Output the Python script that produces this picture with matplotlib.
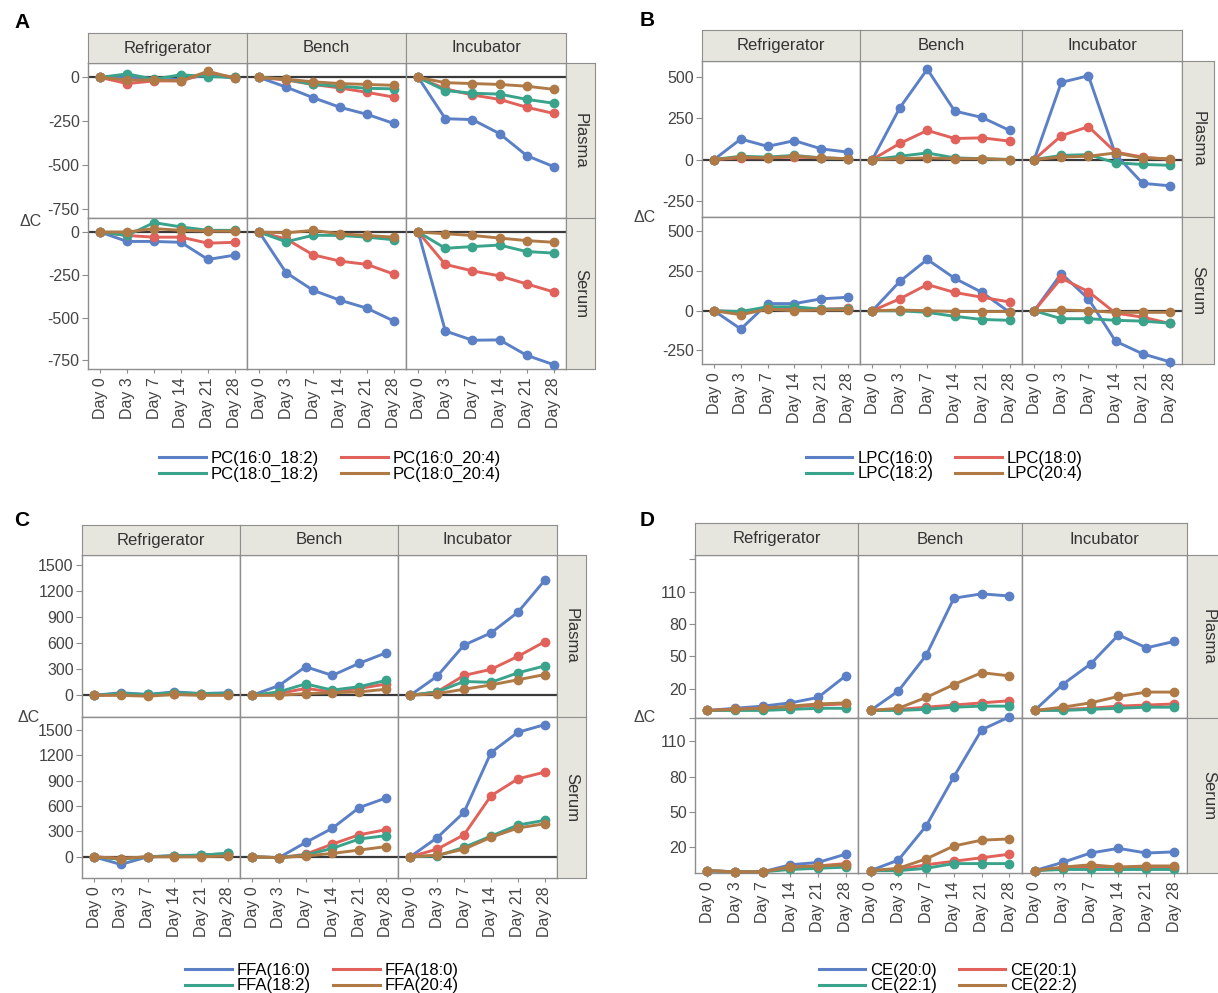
import matplotlib
matplotlib.use('Agg')
import matplotlib.pyplot as plt
from matplotlib.lines import Line2D

plt.rcParams['font.family'] = ['Liberation Sans', 'DejaVu Sans']

days = ['Day 0', 'Day 3', 'Day 7', 'Day 14', 'Day 21', 'Day 28']
storage = ['Refrigerator', 'Bench', 'Incubator']
matrix = ['Plasma', 'Serum']

# each series: Plasma Refrigerator/Bench/Incubator, then Serum Refrigerator/Bench/Incubator
# A - PC
pc_names = ['PC(16:0_18:2)', 'PC(16:0_20:4)', 'PC(18:0_18:2)', 'PC(18:0_20:4)']
pc_160_182 = [[0, 5, -15, -10, 15, -5], [0, -55, -115, -170, -210, -262], [0, -235, -240, -320, -445, -508],
              [0, -55, -55, -60, -160, -135], [0, -237, -340, -398, -445, -520], [0, -578, -632, -630, -720, -775]]
pc_160_204 = [[0, -35, -20, -20, 25, 0], [0, -15, -40, -60, -85, -112], [0, -65, -100, -125, -170, -205],
              [0, -20, -30, -30, -65, -60], [0, -40, -133, -170, -189, -246], [0, -189, -227, -256, -303, -350]]
pc_180_182 = [[0, 20, -10, 15, 5, 0], [0, -10, -40, -50, -62, -65], [0, -75, -90, -95, -125, -147],
              [0, -20, 55, 30, 10, 10], [0, -57, -19, -20, -30, -45], [0, -95, -85, -76, -114, -123]]
pc_180_204 = [[0, -15, -15, -20, 35, -5], [0, -10, -25, -35, -40, -45], [0, -30, -35, -40, -50, -68],
              [0, 0, 20, 10, 5, 5], [0, -5, 10, -10, -20, -30], [0, -10, -20, -35, -50, -60]]

# B - LPC
lpc_names = ['LPC(16:0)', 'LPC(18:0)', 'LPC(18:2)', 'LPC(20:4)']
lpc_160 = [[0, 125, 80, 115, 65, 45], [0, 315, 550, 295, 256, 177], [0, 470, 510, 30, -145, -160],
           [0, -115, 45, 45, 75, 85], [0, 185, 323, 204, 115, -10], [0, 234, 75, -192, -271, -321]]
lpc_180 = [[0, 10, 10, 15, 10, 5], [0, 98, 177, 128, 132, 112], [0, 145, 200, 45, 15, 0],
           [0, -10, 15, 15, 10, 15], [0, 75, 165, 115, 85, 55], [0, 205, 120, -15, -40, -80]]
lpc_182 = [[0, 20, 15, 25, 10, 5], [0, 20, 40, 10, 5, 0], [0, 25, 30, -20, -30, -35],
           [0, -5, 25, 25, 10, 10], [0, 0, -10, -35, -55, -60], [0, -50, -50, -60, -65, -78]]
lpc_204 = [[0, 15, 10, 20, 10, 5], [0, 5, 10, 5, 5, 0], [0, 15, 20, 40, 10, 5],
           [0, -25, 10, 0, 5, 5], [0, 5, 0, -5, -5, -5], [0, 5, 0, -10, -10, -10]]

# C - FFA
ffa_names = ['FFA(16:0)', 'FFA(18:0)', 'FFA(18:2)', 'FFA(20:4)']
ffa_160 = [[0, 30, 10, 40, 20, 30], [0, 112, 330, 230, 370, 490], [0, 220, 580, 720, 960, 1330],
           [0, -90, 0, 15, 20, 40], [0, -10, 169, 337, 581, 694], [0, 225, 525, 1230, 1470, 1560]]
ffa_180 = [[0, 10, 0, 20, 10, 10], [0, 20, 80, 40, 80, 130], [0, 40, 230, 300, 450, 620],
           [0, -20, 0, 10, 15, 30], [0, -10, 30, 150, 260, 320], [0, 90, 260, 720, 920, 1000]]
ffa_182 = [[0, 20, 10, 30, 20, 20], [0, 40, 132, 60, 100, 172], [0, 40, 160, 150, 260, 340],
           [0, -30, 0, 10, 20, 40], [0, -10, 20, 100, 210, 250], [0, 10, 112, 244, 375, 431]]
ffa_204 = [[0, 0, -10, 10, 0, 0], [0, 0, 20, 30, 40, 70], [0, 20, 70, 120, 180, 240],
           [0, -20, 0, 0, 0, 10], [0, -10, 10, 40, 80, 120], [0, 20, 90, 230, 340, 390]]

# D - CE
ce_names = ['CE(20:0)', 'CE(20:1)', 'CE(22:1)', 'CE(22:2)']
ce_200 = [[0, 2, 4, 7, 12, 32], [0, 18, 51, 104, 108, 106], [0, 24, 43, 70, 58, 64],
          [0, -1, -1, 5, 7, 14], [0, 9, 38, 80, 120, 131], [0, 7, 15, 19, 15, 16]]
ce_201 = [[0, 1, 2, 3, 5, 6], [0, 1, 3, 5, 7, 9], [0, 1, 2, 4, 5, 6],
          [0, -1, -1, 3, 4, 6], [0, 1, 5, 8, 11, 14], [0, 2, 3, 3, 3, 3]]
ce_221 = [[0, 0, 0, 1, 2, 2], [0, 0, 1, 3, 4, 4], [0, 0, 1, 2, 3, 3],
          [0, -1, -1, 1, 2, 3], [0, 0, 2, 6, 6, 6], [0, 1, 1, 1, 1, 1]]
ce_222 = [[0, 1, 2, 4, 6, 7], [0, 2, 12, 24, 35, 32], [0, 3, 7, 13, 17, 17],
          [0, -1, -1, 3, 4, 5], [0, 2, 10, 21, 26, 27], [0, 3, 5, 3, 4, 4]]

colors = ['#5b80c6', '#e0625a', '#3aa38b', '#b07a46']

W, H = 1218, 993
fig = plt.figure(figsize=(W / 100, H / 100), dpi=100)


def box(x0, y0, x1, y1):
    return [x0 / W, 1 - y1 / H, (x1 - x0) / W, (y1 - y0) / H]


def panel(letter, series, names, cols, rows, strip_top, strip_right, ylims, yticks, ylabels,
          zero_line, leg_xy, letter_xy, dc_xy):
    for r in range(2):
        for c in range(3):
            ax = fig.add_axes(box(cols[c], rows[r], cols[c + 1], rows[r + 1]))
            if zero_line:
                ax.axhline(0, color='#3a3a3a', lw=1.6, zorder=2)
            for s, vals in enumerate(series):
                ax.plot(range(6), vals[r * 3 + c], color=colors[s], lw=2.1, marker='o', ms=6,
                        clip_on=False, zorder=3 + s)
            ax.set_xlim(-0.45, 5.45)
            ax.set_ylim(ylims[r])
            for sp in ax.spines.values():
                sp.set_color('#8e8e8e')
                sp.set_linewidth(1.0)
            ax.set_yticks(yticks[r])
            if c == 0:
                ax.set_yticklabels(ylabels[r])
                ax.tick_params(axis='y', length=4, color='#8e8e8e', labelsize=11.5, labelcolor='#444444', pad=2)
            else:
                ax.tick_params(axis='y', length=0, labelleft=False)
            ax.set_xticks(range(6))
            if r == 1:
                ax.set_xticklabels(days, rotation=90)
                ax.tick_params(axis='x', length=3, color='#8e8e8e', labelsize=11.5, labelcolor='#444444', pad=3)
            else:
                ax.tick_params(axis='x', length=0, labelbottom=False)

            if r == 0:
                st = fig.add_axes(box(cols[c], strip_top, cols[c + 1], rows[0]))
                st.set_facecolor('#e6e6df')
                st.set_xticks([])
                st.set_yticks([])
                for sp in st.spines.values():
                    sp.set_color('#8e8e8e')
                st.text(0.5, 0.5, storage[c], ha='center', va='center', fontsize=12, color='#333333',
                        transform=st.transAxes)
        rs = fig.add_axes(box(cols[3], rows[r], strip_right, rows[r + 1]))
        rs.set_facecolor('#e6e6df')
        rs.set_xticks([])
        rs.set_yticks([])
        for sp in rs.spines.values():
            sp.set_color('#8e8e8e')
        rs.text(0.5, 0.5, matrix[r], ha='center', va='center', rotation=-90, fontsize=12, color='#333333',
                transform=rs.transAxes)

    fig.text(letter_xy[0] / W, 1 - letter_xy[1] / H, letter, fontsize=15, fontweight='bold',
             ha='left', va='center')
    fig.text(dc_xy[0] / W, 1 - dc_xy[1] / H, 'ΔC', fontsize=11.5, color='#444444', ha='left', va='center')
    # legend filled row by row, as in the reference
    order = [0, 2, 1, 3]
    handles = [Line2D([0], [0], color=colors[i], lw=2.2) for i in order]
    fig.legend(handles, [names[i] for i in order], ncol=2, loc='center',
               bbox_to_anchor=(leg_xy[0] / W, 1 - leg_xy[1] / H),
               frameon=False, fontsize=12, handlelength=2.8, handletextpad=0.3, columnspacing=1.3,
               labelspacing=0.05, borderpad=0)


panel('A', [pc_160_182, pc_160_204, pc_180_182, pc_180_204], pc_names,
      [88, 247, 406, 566], [63, 218, 369], 33, 595,
      [(-800, 82), (-800, 82)], [[0, -250, -500, -750]] * 2, [['0', '-250', '-500', '-750']] * 2,
      True, (330, 466), (14, 22), (20, 222))

panel('B', [lpc_160, lpc_180, lpc_182, lpc_204], lpc_names,
      [702, 860, 1022, 1182], [61, 217, 364], 30, 1214,
      [(-350, 600), (-335, 590)], [[500, 250, 0, -250]] * 2, [['500', '250', '0', '-250']] * 2,
      True, (944, 466), (640, 20), (634, 218))

panel('C', [ffa_160, ffa_180, ffa_182, ffa_204], ffa_names,
      [82, 240, 398, 557], [555, 717, 878], 525, 586,
      [(-250, 1620), (-250, 1650)], [[0, 300, 600, 900, 1200, 1500]] * 2,
      [['0', '300', '600', '900', '1200', '1500']] * 2,
      True, (322, 978), (14, 520), (18, 717))

panel('D', [ce_200, ce_201, ce_221, ce_222], ce_names,
      [695, 858, 1022, 1187], [555, 718, 873], 523, 1230,
      [(-7, 144), (-2, 130)], [[-7, 20, 50, 80, 110, 140], [20, 50, 80, 110]],
      [['', '20', '50', '80', '110', ''], ['20', '50', '80', '110']],
      False, (948, 978), (640, 520), (634, 718))

fig.savefig('out.png', dpi=100)
